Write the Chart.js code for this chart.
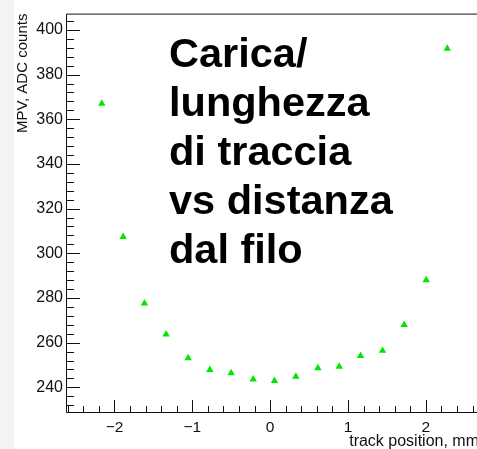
<!DOCTYPE html>
<html>
<head>
<meta charset="utf-8">
<title>MPV vs track position</title>
<script src="https://cdn.jsdelivr.net/npm/chart.js@4.4.1/dist/chart.umd.min.js"></script>
<style>
  html, body { margin: 0; padding: 0; background: #fff; overflow: hidden; }
  #contenitore { width: 490px; height: 449px; }
</style>
</head>
<body>
<div id="contenitore"><canvas id="grafico" width="490" height="449"></canvas></div>
<script>
// Posizione della traccia (mm) e MPV della carica per unita' di lunghezza
const posizioni = [-2.163, -1.889, -1.615, -1.337, -1.054, -0.775, -0.501, -0.218, 0.056,
                   0.330, 0.613, 0.887, 1.161, 1.444, 1.722, 2.005, 2.275];
const mpv = [367.0, 307.4, 277.6, 263.7, 253.1, 247.8, 246.4, 243.6, 242.9,
             244.8, 248.6, 249.3, 254.1, 256.4, 268.0, 288.0, 391.6];

// Etichette degli assi
const etichetteX = [-2, -1, 0, 1, 2];
const etichetteY = [240, 260, 280, 300, 320, 340, 360, 380, 400];

const titoloX = 'track position, mm';
const titoloY = 'MPV, ADC counts';
const scritta = ['Carica/', 'lunghezza', 'di traccia', 'vs distanza', 'dal filo'];

const FONT = '"Liberation Sans", Arial, Helvetica, sans-serif';

// Numeri negativi col segno meno tipografico
function formatta(v) {
  return v < 0 ? '\u2212' + Math.abs(v) : String(v);
}

// Cornice, tacche interne, titoli degli assi e scritta grande
const decorazioni = {
  id: 'decorazioni',
  beforeDraw(chart) {
    const ctx = chart.ctx;
    ctx.save();
    ctx.fillStyle = '#f3f3f3';
    ctx.fillRect(0, 0, 14, chart.height);
    ctx.restore();
  },
  afterDraw(chart) {
    const ctx = chart.ctx;
    const area = chart.chartArea;
    const sx = chart.scales.x;
    const sy = chart.scales.y;

    ctx.save();
    ctx.strokeStyle = '#111';
    ctx.lineWidth = 1;

    // cornice
    ctx.beginPath();
    ctx.moveTo(area.left - 0.5, area.top + 0.5);
    ctx.lineTo(area.right, area.top + 0.5);
    ctx.lineTo(area.right, area.bottom - 0.5);
    ctx.lineTo(area.left - 0.5, area.bottom - 0.5);
    ctx.closePath();
    ctx.stroke();

    // tacche asse y: principali ogni 20, secondarie ogni 4
    ctx.beginPath();
    for (let v = Math.ceil(sy.min / 4) * 4; v <= sy.max; v += 4) {
      const y = Math.round(sy.getPixelForValue(v)) + 0.5;
      const len = v % 20 === 0 ? 13 : 7;
      ctx.moveTo(area.left, y);
      ctx.lineTo(area.left + len, y);
    }
    // tacche asse x: principali ogni 1, secondarie ogni 0.2
    for (let i = Math.ceil(sx.min * 5); i <= Math.floor(sx.max * 5); i++) {
      const x = Math.round(sx.getPixelForValue(i / 5)) + 0.5;
      const len = i % 5 === 0 ? 13 : 7;
      ctx.moveTo(x, area.bottom);
      ctx.lineTo(x, area.bottom - len);
    }
    ctx.stroke();

    // titoli degli assi
    ctx.fillStyle = '#111';
    ctx.textBaseline = 'alphabetic';
    ctx.textAlign = 'right';
    ctx.font = '16px ' + FONT;
    ctx.fillText(titoloX, area.right + 1, 446);

    ctx.font = '15px ' + FONT;
    ctx.translate(27, area.top);
    ctx.rotate(-Math.PI / 2);
    ctx.fillText(titoloY, 0, 0);
    ctx.restore();

    // scritta grande sopra il grafico
    ctx.save();
    ctx.fillStyle = '#000';
    ctx.font = 'bold 41.5px ' + FONT;
    ctx.textAlign = 'left';
    ctx.textBaseline = 'alphabetic';
    scritta.forEach((riga, i) => {
      ctx.fillText(riga, 169, 67 + i * 49);
    });
    ctx.restore();
  }
};

const ctx = document.getElementById('grafico').getContext('2d');

new Chart(ctx, {
  type: 'scatter',
  data: {
    datasets: [{
      data: posizioni.map((x, i) => ({ x: x, y: mpv[i] })),
      pointStyle: 'triangle',
      pointRadius: 4.3,
      backgroundColor: '#00e800',
      borderColor: '#00e800',
      borderWidth: 0
    }]
  },
  options: {
    responsive: false,
    animation: false,
    devicePixelRatio: 1,
    layout: { padding: { top: 13, right: 12, left: 0, bottom: 0 } },
    plugins: {
      legend: { display: false },
      tooltip: { enabled: false }
    },
    scales: {
      x: {
        type: 'linear',
        min: -2.61,
        max: 2.67,
        grid: { display: false, drawTicks: false },
        border: { display: false },
        ticks: {
          color: '#111',
          font: { family: FONT, size: 15.5 },
          padding: 5,
          maxRotation: 0,
          autoSkip: false,
          callback: v => formatta(v)
        },
        afterBuildTicks: s => { s.ticks = etichetteX.map(v => ({ value: v })); },
        afterFit: s => { s.height = 36; }
      },
      y: {
        type: 'linear',
        min: 228.5,
        max: 407.3,
        grid: { display: false, drawTicks: false },
        border: { display: false },
        ticks: {
          color: '#111',
          font: { family: FONT, size: 16 },
          padding: 4,
          autoSkip: false,
          callback: v => formatta(v)
        },
        afterBuildTicks: s => { s.ticks = etichetteY.map(v => ({ value: v })); },
        afterFit: s => { s.width = 67; }
      }
    }
  },
  plugins: [decorazioni]
});
</script>
</body>
</html>
